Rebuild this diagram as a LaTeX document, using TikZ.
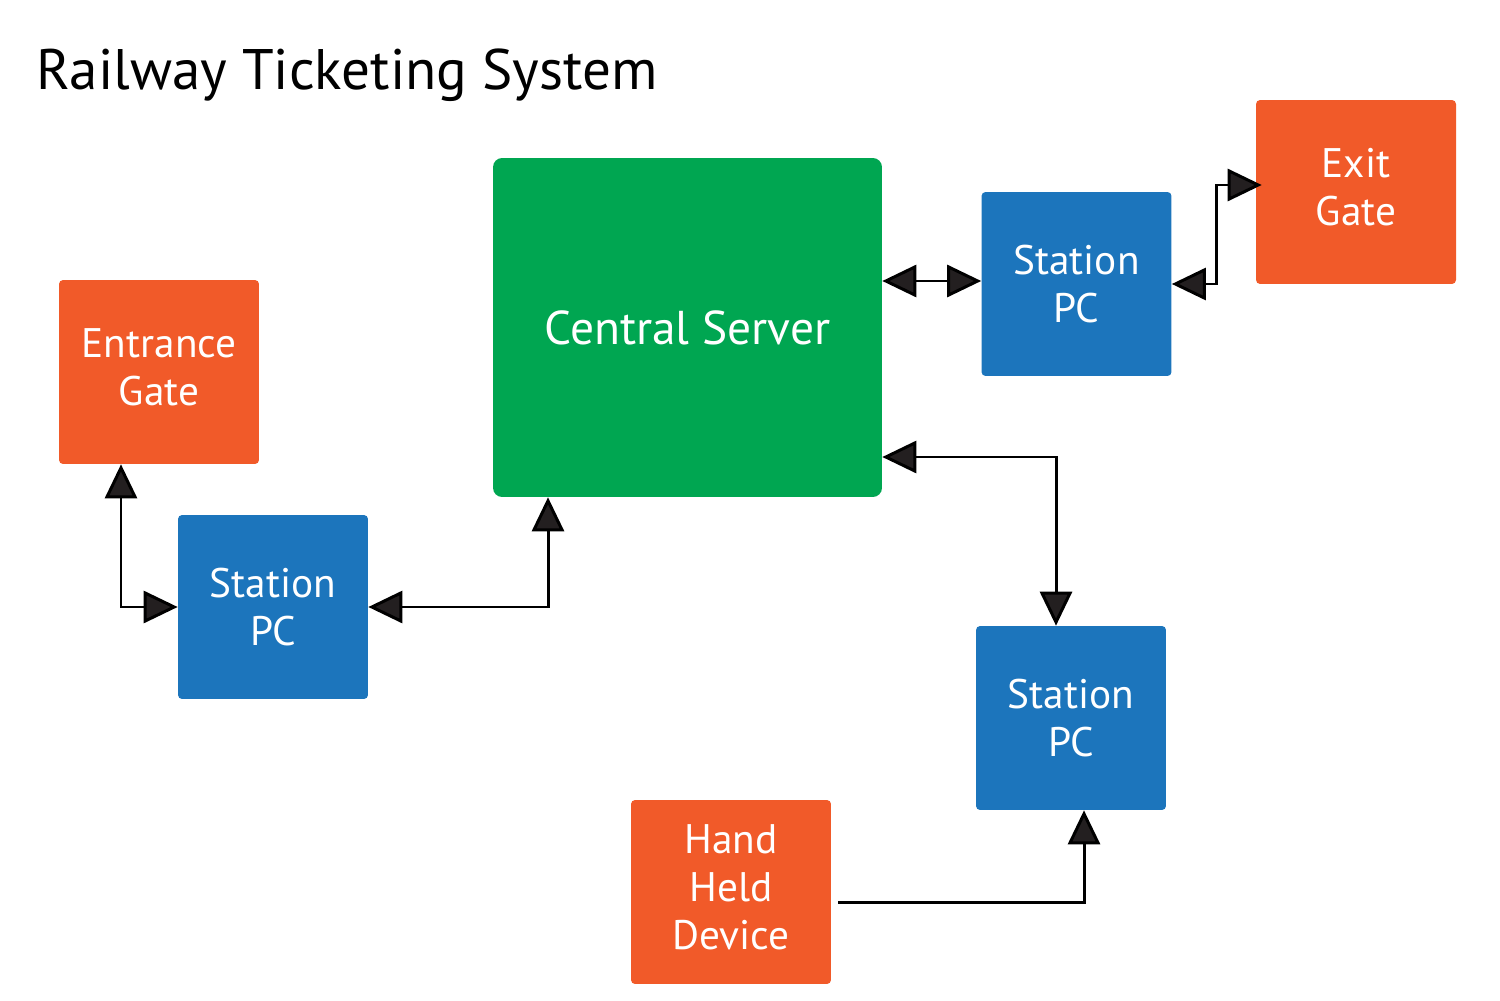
\documentclass[tikz,border=0pt]{standalone}
\usepackage{fontspec}
\setmainfont{PT Sans}
\usetikzlibrary{arrows.meta,calc}
\definecolor{srvgreen}{HTML}{00A651}
\definecolor{pcblue}{HTML}{1C75BC}
\definecolor{gateorange}{HTML}{F15A29}
\definecolor{afill}{HTML}{231F20}
\newcommand{\gatetxt}[1]{\raisebox{0.24cm}{\begin{tabular}{@{}c@{}}#1\end{tabular}}}
\tikzset{
  box/.style={draw=none, text=white, align=center, inner sep=0pt, rounded corners=0.08cm,
    font=\fontsize{23.5}{27.5}\selectfont},
  pcbox/.style={box, fill=pcblue, minimum width=3.8cm, minimum height=3.68cm},
  gatebox/.style={box, fill=gateorange, minimum width=4cm, minimum height=3.68cm},
  tipx/.tip={Triangle[length=0.68cm, width=0.64cm, fill=afill]},
  conn/.style={draw=black, line width=1.7pt},
  biarrow/.style={conn, tipx-tipx},
  onearrow/.style={conn, -tipx},
}
\begin{document}
\begin{tikzpicture}[x=0.02cm, y=-0.02cm]
\useasboundingbox (0,0) rectangle (1500,1000);
\node[anchor=base west, inner sep=0pt, font=\fontsize{32.5}{38}\selectfont] (title) at (36,90) {Railway Ticketing System};
\node[box, fill=srvgreen, minimum width=7.78cm, minimum height=6.78cm, rounded corners=0.18cm,
  font=\fontsize{27}{31}\selectfont] (srv) at (687.5,327.5) {Central Server};
\node[pcbox] (stT) at (1076.5,284) {Station\\PC};
\node[gatebox] (exit) at (1356,192) {\gatetxt{Exit\\Gate}};
\node[gatebox] (ent) at (159,372) {\gatetxt{Entrance\\Gate}};
\node[pcbox] (stL) at (273,607) {Station\\PC};
\node[pcbox] (stB) at (1071,718) {Station\\PC};
\node[gatebox] (hand) at (731,892) {\gatetxt{Hand\\Held\\Device}};
% connectors
\coordinate (a1) at ($(stT.west)+(0,-3)$);
\draw[biarrow] (a1 -| srv.east) -- (a1);
\draw[biarrow] (stT.east) -- ++(45,0) |- ($(exit.west)+(6,-7)$);
\draw[biarrow] ($(ent.south)+(-38,0)$) |- (stL.west);
\draw[biarrow] (stL.east) -| ($(srv.south)+(-139.5,0)$);
\draw[biarrow] ($(srv.east)+(0,129.5)$) -| ($(stB.north)+(-15,0)$);
\draw[onearrow] ($(hand.east)+(7,10)$) -| ($(stB.south)+(13,0)$);
\end{tikzpicture}
\end{document}
